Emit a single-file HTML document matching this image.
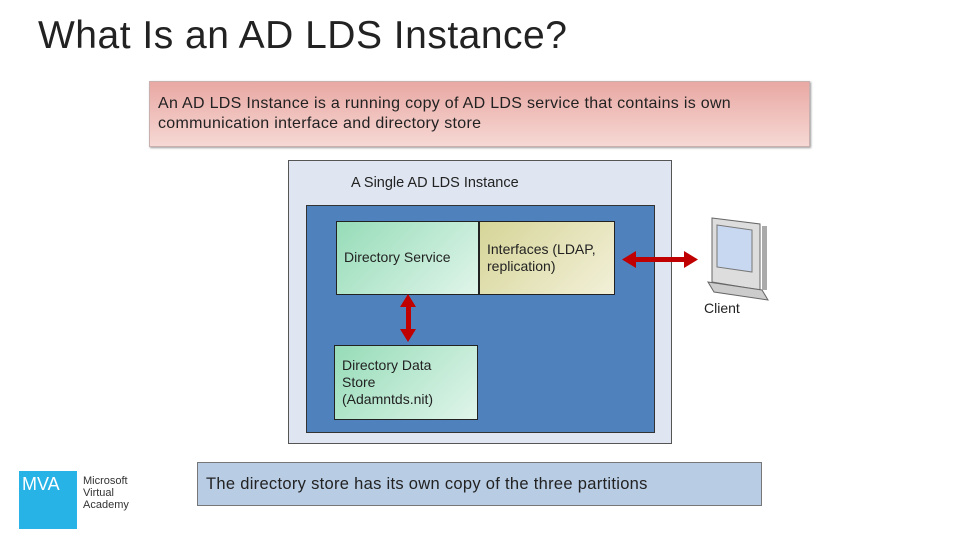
<!DOCTYPE html>
<html><head><style>
body{margin:0;width:960px;height:540px;background:#fff;position:relative;overflow:hidden;font-family:"Liberation Sans",sans-serif;}
div{position:absolute;box-sizing:border-box;}
</style></head><body>
<div style="left:38px;top:14px;font-size:39px;color:#222;letter-spacing:0.5px;">What Is an AD LDS Instance?</div>
<div style="left:149px;top:81px;width:661px;height:66px;background:linear-gradient(#e9a8a3,#f6d8d4);border:1px solid #c9b0ae;box-shadow:1px 1px 2px #999;padding:12px 0 0 8px;font-size:16px;line-height:20px;color:#222;letter-spacing:0.3px;">An AD LDS Instance is a running copy of AD LDS service that contains is own<br>communication interface and directory store</div>
<div style="left:288px;top:160px;width:384px;height:284px;background:#dfe6f1;border:1px solid #555;"></div>
<div style="left:351px;top:175px;font-size:14.5px;color:#222;">A Single AD LDS Instance</div>
<div style="left:306px;top:205px;width:349px;height:228px;background:#4f81bd;border:1px solid #333;"></div>
<div style="left:336px;top:221px;width:143px;height:74px;background:linear-gradient(135deg,#96dcb8,#e0f5ea);border:1px solid #222;padding:27px 0 0 7px;font-size:14px;color:#222;">Directory Service</div>
<div style="left:479px;top:221px;width:136px;height:74px;background:linear-gradient(135deg,#d6d598,#f2f0d8);border:1px solid #222;padding:19px 0 0 7px;font-size:14px;line-height:17px;color:#222;">Interfaces (LDAP,<br>replication)</div>
<div style="left:334px;top:345px;width:144px;height:75px;background:linear-gradient(135deg,#96dcb8,#e0f5ea);border:1px solid #222;padding:11px 0 0 7px;font-size:14px;line-height:17px;color:#222;">Directory Data<br>Store<br>(Adamntds.nit)</div>
<svg style="position:absolute;left:0;top:0" width="960" height="540">
<g fill="#c00000">
<rect x="406" y="305" width="5" height="26"/>
<polygon points="408,294 400,307 416,307"/><polygon points="408,342 400,329 416,329"/>
<rect x="632" y="257" width="56" height="5"/>
<polygon points="622,259.5 636,251 636,268"/><polygon points="698,259.5 684,251 684,268"/>
</g>
<g>
<polygon points="712,218 760,224 760,290 712,282" fill="#ddd" stroke="#666"/>
<polygon points="717,225 752,230 752,272 717,267" fill="#c8d8f0" stroke="#777"/>
<polygon points="708,282 762,290 768,300 714,292" fill="#ccc" stroke="#666"/>
<rect x="762" y="226" width="5" height="64" fill="#aaa"/>
</g>
</svg>
<div style="left:704px;top:300px;font-size:14px;color:#222;">Client</div>
<div style="left:197px;top:462px;width:565px;height:44px;background:#b8cce4;border:1px solid #777;padding:12px 0 0 8px;font-size:16.5px;color:#222;letter-spacing:0.3px;">The directory store has its own copy of the three partitions</div>
<div style="left:19px;top:471px;width:58px;height:58px;background:#27b3e6;color:#fff;font-size:18px;padding:3px 0 0 3px;">MVA</div>
<div style="left:83px;top:475px;font-size:11px;line-height:12px;color:#333;">Microsoft<br>Virtual<br>Academy</div>
</body></html>
